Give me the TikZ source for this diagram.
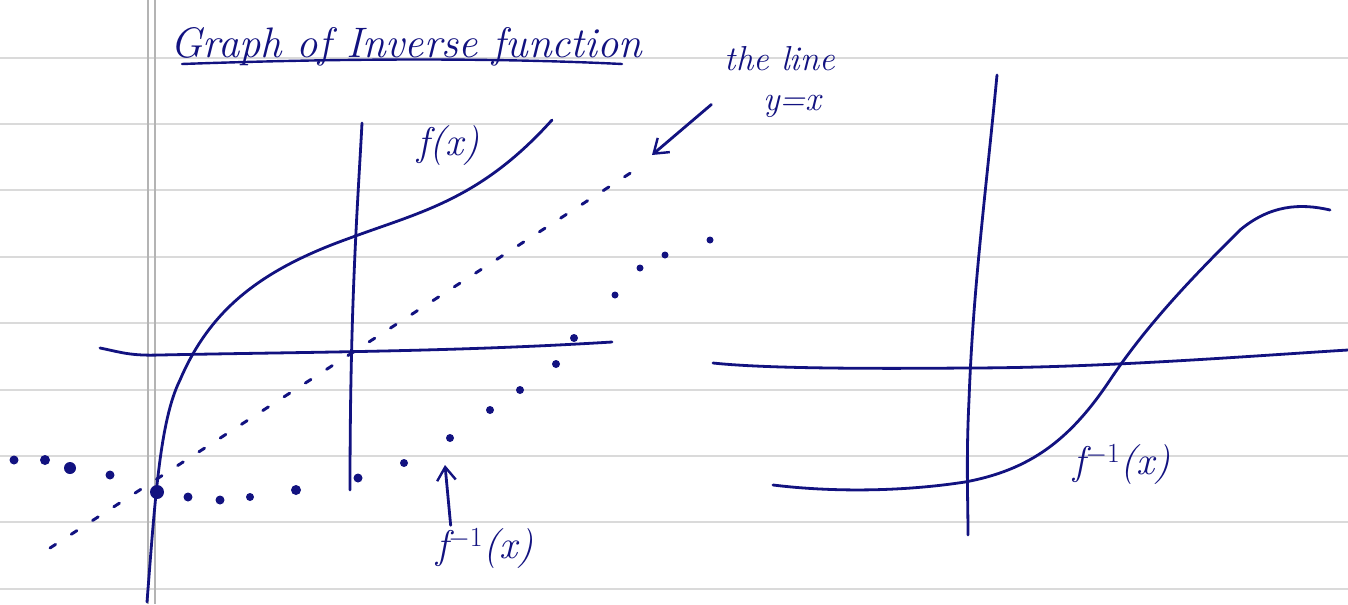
\documentclass[tikz,border=0pt]{standalone}
\usetikzlibrary{arrows.meta}
\definecolor{ink}{RGB}{18,18,128}
\definecolor{rule}{RGB}{218,218,218}
\definecolor{margin}{RGB}{180,180,180}
\tikzset{
  pen/.style={draw=ink,line width=2.1pt,line cap=round,line join=round},
  ruled/.style={draw=rule,line width=1.1pt},
  marginline/.style={draw=margin,line width=0.8pt},
  hand/.style={text=ink,font=\itshape,inner sep=0pt},
  dashy/.style={draw=ink,line width=2.2pt,line cap=round,dash pattern=on 5pt off 14pt},
  dot/.style={fill=ink,draw=none},
  arrowpen/.style={pen,-{Straight Barb[length=10pt,width=14pt,line width=1.8pt]}}
}
\begin{document}
\begin{tikzpicture}[x=0.75pt,y=-0.75pt]
\useasboundingbox (0,0) rectangle (1348,604);
\fill[white] (0,0) rectangle (1348,604);
% ruled paper
\foreach \yy in {58,124,190,257,323,390,456,522,589}
  \draw[ruled] (0,\yy) -- (1348,\yy);
\draw[marginline] (148,0) -- (148,604);
\draw[marginline] (155,0) -- (155,604);

% title
\node[hand,font=\itshape\fontsize{32}{36}\selectfont,anchor=base west] (title) at (170,57) {Graph of Inverse function};
\draw[pen,line width=1.8pt] (182,64) .. controls (350,58) and (500,58) .. (622,64);

% ===== left graph =====
% y axis
\draw[pen] (362,123) .. controls (358,200) and (350,300) .. (350,490);
% x axis
\draw[pen] (100,348) .. controls (120,352) and (130,356) .. (160,355)
  .. controls (300,352) and (450,352) .. (612,342);
% f(x)
\draw[pen] (147,602) .. controls (155,500) and (160,420) .. (180,380)
  .. controls (210,310) and (260,270) .. (350,238)
  .. controls (420,212) and (480,200) .. (552,120);
\node[hand,font=\itshape\fontsize{30}{34}\selectfont] (fx) at (448,146) {f(x)};

% y = x line (dashed)
\coordinate (yxA) at (50,548);
\coordinate (yxB) at (632,172);
\draw[dashy] (yxA) -- (yxB);

% f^{-1} dotted curve
\foreach \px/\py/\r in {14/460/4.5,45/460/5,70/468/6,110/475/4.5,157/492/7,188/497/4.5,220/500/4.5,250/497/4,296/490/5,358/478/4.5,404/463/4,450/438/4,490/410/4,520/390/4,556/364/4,574/338/4,615/295/3.5,640/268/3.5,665/255/3.5,710/240/3.5}
  \fill[dot] (\px,\py) circle (\r);
\node[hand,font=\itshape\fontsize{30}{34}\selectfont,anchor=north west] (finvL) at (436,528) {f$^{-1}$(x)};
\coordinate (finvLtip) at (445,465);
\draw[arrowpen] ([xshift=11,yshift=2]finvL.north west) -- (finvLtip);

% the line y = x label
\node[hand,font=\itshape\fontsize{26}{30}\selectfont,align=center] (yxlabel) at (780,82) {the line\\ \hspace*{0.7em}y=x};
\coordinate (yxtip) at (652,155);
\draw[arrowpen] ([xshift=-10,yshift=10]yxlabel.south west) -- (yxtip);

% ===== right graph =====
\draw[pen] (997,75) .. controls (985,200) and (973,290) .. (969,400)
  .. controls (966,460) and (968,500) .. (968,535);
\draw[pen] (713,363) .. controls (760,368) and (850,369) .. (965,368)
  .. controls (1100,368) and (1250,356) .. (1348,350);
\draw[pen] (773,485) .. controls (830,492) and (900,492) .. (965,482)
  .. controls (1030,470) and (1070,440) .. (1110,380)
  .. controls (1150,320) and (1200,270) .. (1240,230)
  .. controls (1270,205) and (1300,203) .. (1330,210);
\node[hand,font=\itshape\fontsize{30}{34}\selectfont] (finvR) at (1122,465) {f$^{-1}$(x)};
\end{tikzpicture}
\end{document}
